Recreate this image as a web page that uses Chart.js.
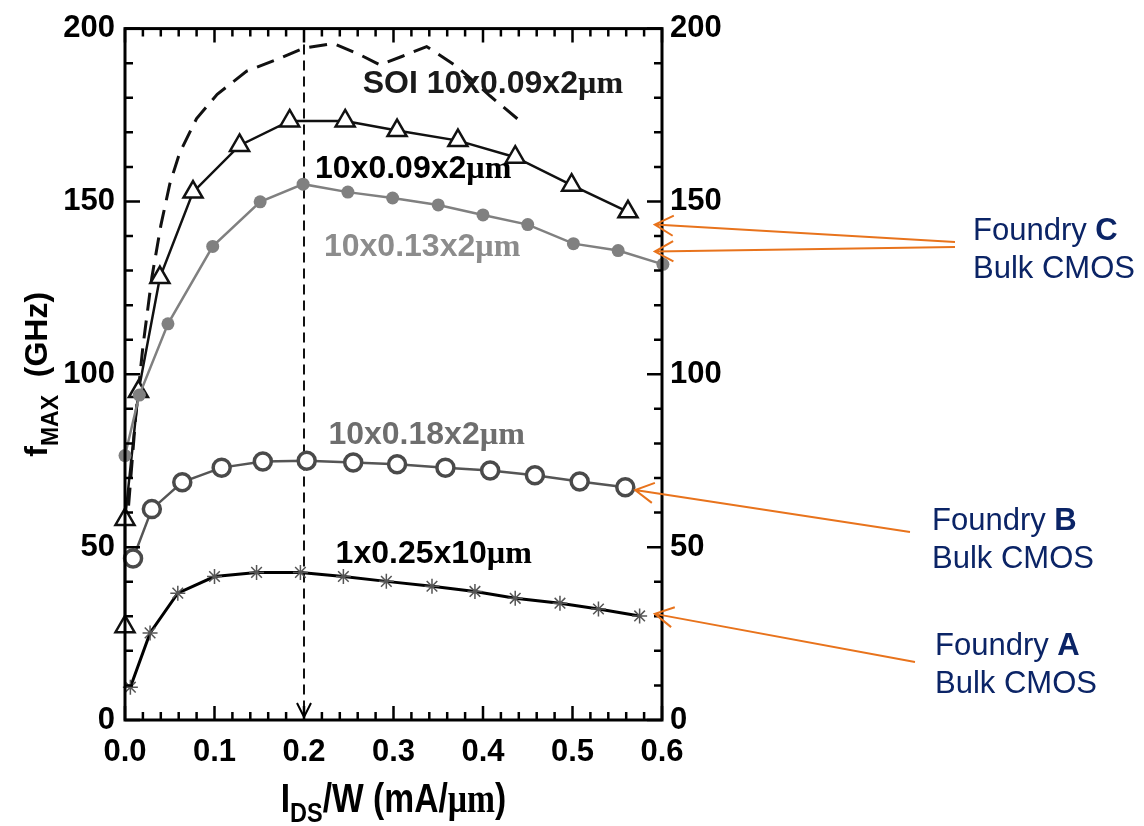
<!DOCTYPE html>
<html>
<head>
<meta charset="utf-8">
<title>fMAX vs IDS/W</title>
<script src="https://cdn.jsdelivr.net/npm/chart.js@4.4.0/dist/chart.umd.min.js"></script>
<style>
  html, body { margin: 0; padding: 0; background: #fff; }
  canvas { display: block; }
</style>
</head>
<body>
<canvas id="fmax-chart" width="1144" height="826"></canvas>
<script>
// Datos (IDS/W en mA/µm, fMAX en GHz)
const xSOI = [0.004, 0.012, 0.020, 0.030, 0.040, 0.050, 0.061, 0.080, 0.103, 0.136, 0.173, 0.199, 0.233, 0.262, 0.285, 0.310, 0.337, 0.371, 0.408, 0.445];
const ySOI = [62, 88, 108, 128, 143, 155, 164, 174, 181, 187.7, 191.4, 194.3, 195.7, 192.5, 189.5, 192, 194.8, 189, 180.5, 172.5];

const xC09 = [0.0, 0.0, 0.015, 0.039, 0.076, 0.128, 0.184, 0.246, 0.304, 0.372, 0.436, 0.499, 0.562];
const yC09 = [27, 58, 95, 128, 152.7, 166.2, 173.3, 173.3, 170.5, 167.6, 162.8, 154.7, 147];

const xC13 = [0.0, 0.016, 0.048, 0.098, 0.151, 0.199, 0.249, 0.299, 0.350, 0.400, 0.450, 0.501, 0.551, 0.601];
const yC13 = [76.5, 94, 114.6, 137.0, 149.9, 155.0, 152.7, 151.0, 149.0, 146.1, 143.3, 137.8, 135.8, 131.8];

const xB18 = [0.009, 0.030, 0.064, 0.108, 0.154, 0.203, 0.255, 0.304, 0.358, 0.408, 0.458, 0.508, 0.559];
const yB18 = [46.7, 61.0, 68.8, 73.0, 74.8, 75.0, 74.5, 74.0, 73.0, 72.2, 70.8, 69.0, 67.3];

const xA25 = [0.006, 0.028, 0.059, 0.100, 0.147, 0.196, 0.244, 0.292, 0.343, 0.391, 0.436, 0.486, 0.529, 0.575];
const yA25 = [9.5, 25.2, 36.7, 41.5, 42.7, 42.7, 41.5, 40.1, 38.7, 37.2, 35.2, 33.8, 32.1, 30.1];

// Línea vertical del pico
const peakX = [0.2, 0.2];
const peakY = [200, 0];

// Ejes
const xMin = 0, xMax = 0.6, xStep = 0.1, xMinor = 0.02;
const yMin = 0, yMax = 200, yStep = 50, yMinor = 10;

// Etiquetas de curvas (posición en unidades de datos)
const curveLabels = [
  { text: 'SOI 10x0.09x2', x: 0.411, y: 184.2, color: '#1a1a1a' },
  { text: '10x0.09x2', x: 0.322, y: 159.6, color: '#000000' },
  { text: '10x0.13x2', x: 0.332, y: 137.2, color: '#8c8c8c' },
  { text: '10x0.18x2', x: 0.337, y: 82.8, color: '#6e6e6e' },
  { text: '1x0.25x10', x: 0.345, y: 48.4, color: '#000000' }
];

// Anotaciones de fundición
const foundryNames = ['C', 'B', 'A'];

const FONT = '"Liberation Sans", Arial, Helvetica, sans-serif';
const SERIF = '"Liberation Serif", "Times New Roman", serif';
const ORANGE = '#E8731C';
const NAVY = '#0B2466';

function pts(xs, ys) {
  return xs.map((x, i) => ({ x: x, y: ys[i] }));
}

// Dibuja texto con partes de distinto estilo
function drawParts(ctx, parts, x, y, align) {
  let total = 0;
  parts.forEach(p => { ctx.font = p.font; p.w = ctx.measureText(p.t).width; total += p.w; });
  let cx = align === 'center' ? x - total / 2 : x;
  ctx.textBaseline = 'alphabetic';
  ctx.textAlign = 'left';
  parts.forEach(p => {
    ctx.font = p.font;
    ctx.fillText(p.t, cx, y + (p.dy || 0));
    cx += p.w;
  });
  return total;
}

function arrow(ctx, tipX, tipY, tailX, tailY) {
  ctx.beginPath();
  ctx.moveTo(tailX, tailY);
  ctx.lineTo(tipX, tipY);
  const ang = Math.atan2(tailY - tipY, tailX - tipX);
  const len = 21, spread = 0.5;
  ctx.moveTo(tipX + len * Math.cos(ang - spread), tipY + len * Math.sin(ang - spread));
  ctx.lineTo(tipX, tipY);
  ctx.lineTo(tipX + len * Math.cos(ang + spread), tipY + len * Math.sin(ang + spread));
  ctx.stroke();
}

// Plugin: marco, marcas hacia dentro, títulos, etiquetas y flechas
const decorPlugin = {
  id: 'decor',
  afterDraw(chart) {
    const ctx = chart.ctx;
    const a = chart.chartArea;
    const xs = chart.scales.x;
    const ys = chart.scales.y;
    ctx.save();

    // marcas
    ctx.strokeStyle = '#000';
    ctx.lineWidth = 2.5;
    ctx.beginPath();
    const nx = Math.round((xMax - xMin) / xMinor);
    for (let i = 0; i <= nx; i++) {
      const px = xs.getPixelForValue(xMin + i * xMinor);
      const L = i % 5 === 0 ? 14 : 8;
      ctx.moveTo(px, a.bottom); ctx.lineTo(px, a.bottom - L);
      ctx.moveTo(px, a.top); ctx.lineTo(px, a.top + L);
    }
    const ny = Math.round((yMax - yMin) / yMinor);
    for (let i = 0; i <= ny; i++) {
      const py = ys.getPixelForValue(yMin + i * yMinor);
      const L = i % 5 === 0 ? 15 : 8;
      ctx.moveTo(a.left, py); ctx.lineTo(a.left + L, py);
      ctx.moveTo(a.right, py); ctx.lineTo(a.right - L, py);
    }
    ctx.stroke();

    // marco
    ctx.lineWidth = 3;
    ctx.strokeRect(a.left, a.top, a.right - a.left, a.bottom - a.top);

    // punta de flecha de la línea del pico
    const pkx = xs.getPixelForValue(peakX[1]);
    const pky = ys.getPixelForValue(peakY[1]) - 3;
    ctx.lineWidth = 2;
    ctx.beginPath();
    ctx.moveTo(pkx - 7, pky - 14); ctx.lineTo(pkx, pky); ctx.lineTo(pkx + 7, pky - 14);
    ctx.stroke();

    // etiquetas de curvas
    curveLabels.forEach(l => {
      ctx.fillStyle = l.color;
      const px = xs.getPixelForValue(l.x);
      const py = ys.getPixelForValue(l.y) + 10;
      drawParts(ctx, [
        { t: l.text, font: 'bold 32px ' + FONT },
        { t: 'µm', font: 'bold 32px ' + SERIF }
      ], px, py, 'center');
    });

    // título eje x
    ctx.fillStyle = '#000';
    ctx.save();
    const midX = (a.left + a.right) / 2;
    ctx.translate(midX, 812);
    ctx.scale(0.84, 1);
    drawParts(ctx, [
      { t: 'I', font: 'bold 40px ' + FONT },
      { t: 'DS', font: 'bold 28px ' + FONT, dy: 10 },
      { t: '/W (mA/', font: 'bold 40px ' + FONT },
      { t: 'µm', font: 'bold 40px ' + SERIF },
      { t: ')', font: 'bold 40px ' + FONT }
    ], 0, 0, 'center');
    ctx.restore();

    // título eje y
    ctx.save();
    ctx.translate(47, (a.top + a.bottom) / 2);
    ctx.rotate(-Math.PI / 2);
    drawParts(ctx, [
      { t: 'f', font: 'bold 32px ' + FONT },
      { t: 'MAX', font: 'bold 23px ' + FONT, dy: 11 },
      { t: '  (GHz)', font: 'bold 32px ' + FONT }
    ], 0, 0, 'center');
    ctx.restore();

    // flechas naranjas
    ctx.strokeStyle = ORANGE;
    ctx.lineWidth = 2;
    arrow(ctx, xs.getPixelForValue(0.592), ys.getPixelForValue(143.3), 955, 242);
    arrow(ctx, xs.getPixelForValue(0.592), ys.getPixelForValue(135.5), 955, 247);
    arrow(ctx, xs.getPixelForValue(0.570), ys.getPixelForValue(66.5), 910, 532);
    arrow(ctx, xs.getPixelForValue(0.592), ys.getPixelForValue(30.7), 915, 662);

    // textos de fundición
    ctx.fillStyle = NAVY;
    const notes = [[973, 240], [932, 530], [935, 655]];
    notes.forEach((n, i) => {
      drawParts(ctx, [
        { t: 'Foundry ', font: '31px ' + FONT },
        { t: foundryNames[i], font: 'bold 31px ' + FONT }
      ], n[0], n[1], 'left');
      drawParts(ctx, [{ t: 'Bulk CMOS', font: '31px ' + FONT }], n[0], n[1] + 38, 'left');
    });

    ctx.restore();
  }
};

const ctx = document.getElementById('fmax-chart').getContext('2d');

new Chart(ctx, {
  type: 'line',
  data: {
    datasets: [
      {
        label: '1x0.25x10µm',
        data: pts(xA25, yA25),
        borderColor: '#000',
        borderWidth: 3,
        pointStyle: 'star',
        pointRadius: 7.5,
        pointBorderColor: '#555',
        pointBorderWidth: 1.5,
        pointBackgroundColor: '#fff',
        clip: false
      },
      {
        label: '10x0.18x2µm',
        data: pts(xB18, yB18),
        borderColor: '#555',
        borderWidth: 2.5,
        pointStyle: 'circle',
        pointRadius: 8.5,
        pointBorderColor: '#4a4a4a',
        pointBorderWidth: 3.5,
        pointBackgroundColor: '#fff',
        clip: false
      },
      {
        label: '10x0.13x2µm',
        data: pts(xC13, yC13),
        borderColor: '#808080',
        borderWidth: 2.5,
        pointStyle: 'circle',
        pointRadius: 6.5,
        pointBorderWidth: 0,
        pointBackgroundColor: '#808080',
        clip: false
      },
      {
        label: '10x0.09x2µm',
        data: pts(xC09, yC09),
        borderColor: '#111',
        borderWidth: 2.5,
        pointStyle: 'triangle',
        pointRadius: 11,
        pointBorderColor: '#111',
        pointBorderWidth: 2.5,
        pointBackgroundColor: '#fff',
        clip: false
      },
      {
        label: 'pico',
        data: pts(peakX, peakY),
        borderColor: '#111',
        borderWidth: 2,
        borderDash: [10, 6],
        pointRadius: 0
      },
      {
        label: 'SOI 10x0.09x2µm',
        data: pts(xSOI, ySOI),
        borderColor: '#111',
        borderWidth: 3,
        borderDash: [18, 10],
        pointRadius: 0,
        clip: false
      }
    ]
  },
  options: {
    responsive: false,
    animation: false,
    devicePixelRatio: 1,
    layout: { padding: { top: 22, left: 0, right: 0, bottom: 0 } },
    plugins: {
      legend: { display: false },
      tooltip: { enabled: false }
    },
    elements: { line: { tension: 0 } },
    scales: {
      x: {
        type: 'linear',
        position: 'bottom',
        min: xMin,
        max: xMax,
        grid: { display: false, drawTicks: false },
        border: { display: false },
        ticks: {
          stepSize: xStep,
          color: '#000',
          padding: 14,
          font: { family: FONT, size: 31, weight: 'bold' },
          callback: v => v.toFixed(1)
        },
        afterFit: s => { s.height = 106; }
      },
      y: {
        type: 'linear',
        position: 'left',
        min: yMin,
        max: yMax,
        grid: { display: false, drawTicks: false },
        border: { display: false },
        ticks: {
          stepSize: yStep,
          color: '#000',
          padding: 10,
          font: { family: FONT, size: 31, weight: 'bold' }
        },
        afterFit: s => { s.width = 125; }
      },
      y2: {
        type: 'linear',
        position: 'right',
        min: yMin,
        max: yMax,
        grid: { display: false, drawTicks: false },
        border: { display: false },
        ticks: {
          stepSize: yStep,
          color: '#000',
          padding: 8,
          font: { family: FONT, size: 31, weight: 'bold' }
        },
        afterFit: s => { s.width = 482; }
      }
    }
  },
  plugins: [decorPlugin]
});
</script>
</body>
</html>
